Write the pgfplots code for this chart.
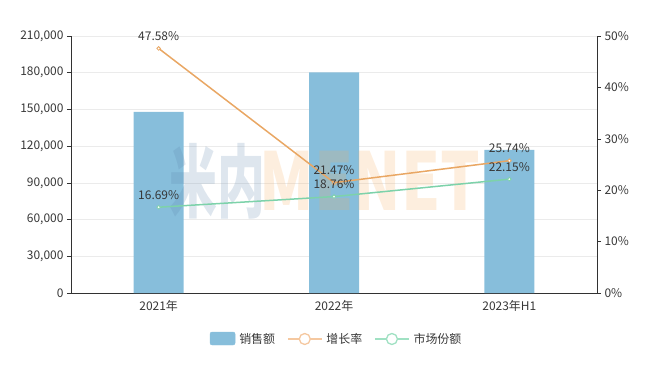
\documentclass[border=0pt]{standalone}
\usepackage{pgfplots}
\pgfplotsset{compat=1.18}
\usepackage{fontspec}
\setmainfont{Noto Sans CJK SC}
\definecolor{barblue}{RGB}{135,190,219}
\definecolor{orangeline}{RGB}{233,167,100}
\definecolor{greenline}{RGB}{125,210,170}
\definecolor{orangelight}{RGB}{245,200,160}
\definecolor{greenlight}{RGB}{160,225,195}
\definecolor{txt}{RGB}{55,55,55}
\definecolor{axl}{RGB}{50,50,50}
\definecolor{gridc}{RGB}{235,235,235}
\definecolor{wmA}{RGB}{90,130,170}
\definecolor{wmB}{RGB}{245,170,90}
\begin{document}
\begin{tikzpicture}
\useasboundingbox (-71bp,-74bp) rectangle (584bp,293bp);
\pgfplotsset{
  base/.style={
    scale only axis, width=526bp, height=257bp,
    at={(0,0)}, anchor=south west,
    xmin=-0.5, xmax=2.5,
    tick align=outside,
    /pgf/number format/assume math mode=true,
    /pgf/number format/fixed,
    /pgf/number format/1000 sep={,},
    tick label style={font=\fontsize{12}{14}\selectfont, text=txt},
    axis line style={axl, line width=0.6pt},
    major tick style={axl, line width=0.6pt},
    major tick length=4bp,
  }
}
\begin{axis}[base,
  axis x line*=bottom, axis y line*=left,
  ymin=0, ymax=210000, ytick={0,30000,...,210000},
  scaled y ticks=false,
  ymajorgrids, grid style={gridc, line width=0.6pt},
  xtick={0,1,2}, xticklabels={2021年,2022年,2023年H1},
  xtick style={draw=none},
  extra x ticks={-0.5,0.5,1.5,2.5}, extra x tick labels={},
  extra x tick style={grid=none, major tick style={axl, line width=0.6pt}},
  ybar, bar width=50bp,
]
\addplot[fill=barblue, draw=none] coordinates {(0,148000) (1,180300) (2,116900)};
\end{axis}
% watermark
\node[text=wmA, text opacity=0.2, font=\fontsize{80}{80}\selectfont\bfseries, xscale=0.6] at (146.5bp,112bp) {米内};
\node[text=wmB, text opacity=0.2, font=\fontsize{80}{80}\selectfont\bfseries, xscale=0.78] at (299bp,112bp) {MENET};
\begin{axis}[base,
  axis x line=none, axis y line*=right,
  ymin=0, ymax=50, ytick={0,10,...,50},
  yticklabel={\pgfmathprintnumber{\tick}\%},
  legend style={at={(0.505,-0.179)}, anchor=center, draw=none, fill=none,
    legend columns=-1, font=\fontsize{12}{14}\selectfont, text=txt,
    /tikz/every odd column/.append style={column sep=2bp},
    /tikz/every even column/.append style={column sep=10bp}},
  nodes near coords, point meta=explicit symbolic,
  every node near coord/.append style={font=\fontsize{12}{14}\selectfont, text=txt, anchor=south, inner sep=0.5bp, yshift=7bp},
]
\addlegendimage{legend image code/.code={\fill[barblue, rounded corners=2bp] (0bp,-6bp) rectangle (25bp,7bp);}}
\addlegendentry{销售额}
\addlegendimage{legend image code/.code={\draw[orangelight, line width=1.3bp] (0bp,0bp) -- (34bp,0bp); \draw[orangelight, fill=white, line width=1.3bp] (17bp,0bp) circle (5.5bp);}}
\addlegendentry{增长率}
\addlegendimage{legend image code/.code={\draw[greenlight, line width=1.3bp] (0bp,0bp) -- (34bp,0bp); \draw[greenlight, fill=white, line width=1.3bp] (17bp,0bp) circle (5.5bp);}}
\addlegendentry{市场份额}
\addplot[orangeline, line width=1.5bp, mark=*, mark size=1.8bp, mark options={fill=white, draw=orangeline, line width=0.8bp}, forget plot]
  coordinates {(0,47.58) [47.58\%] (1,21.47) [21.47\%] (2,25.74) [25.74\%]};
\addplot[greenline, line width=1.5bp, mark=*, mark size=1.8bp, mark options={fill=white, draw=greenline, line width=0.8bp}, forget plot]
  coordinates {(0,16.69) [16.69\%] (1,18.76) [18.76\%] (2,22.15) [22.15\%]};
\end{axis}
\end{tikzpicture}
\end{document}
